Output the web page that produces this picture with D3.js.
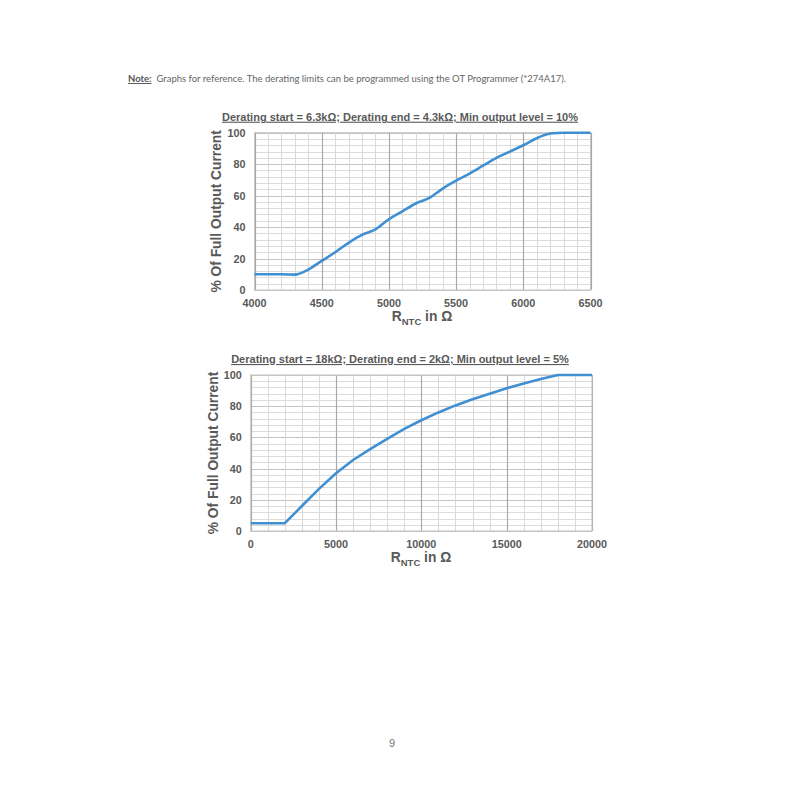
<!DOCTYPE html>
<html>
<head>
<meta charset="utf-8">
<script src="https://cdn.jsdelivr.net/npm/d3@7"></script>
<style>
  body { margin: 0; background: #fff; }
  svg text { font-family: "Liberation Sans", Arial, sans-serif; }
  .note { font-family: Lato, "Noto Sans", sans-serif !important; font-size: 9.5px; fill: #666; }
  .title { font-size: 11px; font-weight: bold; fill: #595959; text-decoration: underline; }
  .tick-label { font-size: 10.8px; font-weight: bold; fill: #595959; }
  .axis-title { font-size: 13.8px; font-weight: bold; fill: #595959; }
</style>
</head>
<body>
<svg id="page" width="800" height="800"></svg>
<script>
// chart 1: derating start 6.3k, end 4.3k, min 10%
const r1 = [4000, 4100, 4200, 4300, 4400, 4500, 4600, 4700, 4800, 4900, 5000, 5100, 5200,
  5300, 5400, 5500, 5600, 5700, 5800, 5900, 6000, 6100, 6200, 6300, 6400, 6500];
const pct1 = [10, 10, 10, 9.8, 13, 18.5, 24, 30, 35, 38.5, 45, 50, 55,
  58.5, 64.5, 69.5, 74, 79, 84, 88, 92, 96.5, 99.5, 100, 100, 100];
const xTicks1 = [4000, 4500, 5000, 5500, 6000, 6500];

// chart 2: derating start 18k, end 2k, min 5%
const r2 = [0, 1000, 2000, 3000, 4000, 5000, 6000, 7000, 8000, 9000, 10000, 11000, 12000,
  13000, 14000, 15000, 16000, 17000, 18000, 19000, 20000];
const pct2 = [5, 5, 5, 16, 27, 37, 45.5, 52.5, 59, 65.5, 71, 76, 80.5,
  84.5, 88, 91.5, 94.5, 97.5, 100, 100, 100];
const xTicks2 = [0, 5000, 10000, 15000, 20000];

const yTicks = [0, 20, 40, 60, 80, 100];

const svg = d3.select('#page');

// note at the top
const note = svg.append('text')
  .attr('class', 'note')
  .attr('x', 128)
  .attr('y', 82);
note.append('tspan')
  .attr('font-weight', 'bold')
  .attr('text-decoration', 'underline')
  .attr('fill', '#555')
  .text('Note:');
note.append('tspan')
  .text('\u00a0 Graphs for reference. The derating limits can be programmed using the OT Programmer (*274A17).');

function drawChart(opt) {
  const g = svg.append('g');
  const x = d3.scaleLinear().domain(opt.xDomain).range([opt.left, opt.right]);
  const y = d3.scaleLinear().domain([0, 100]).range([opt.bottom, opt.top]);

  // minor grid
  const xMinor = d3.range(opt.xDomain[0], opt.xDomain[1] + 1, opt.xMinor);
  const yMinor = d3.range(0, 101, 4);

  g.append('g').selectAll('line')
    .data(yMinor)
    .join('line')
    .attr('x1', opt.left).attr('x2', opt.right)
    .attr('y1', d => Math.round(y(d)) + 0.5).attr('y2', d => Math.round(y(d)) + 0.5)
    .attr('stroke', d => d % 20 === 0 ? '#c4c4c4' : '#dcdcdc')
    .attr('stroke-width', 1);

  g.append('g').selectAll('line')
    .data(xMinor)
    .join('line')
    .attr('x1', d => Math.round(x(d)) + 0.5).attr('x2', d => Math.round(x(d)) + 0.5)
    .attr('y1', opt.top).attr('y2', opt.bottom)
    .attr('stroke', d => opt.xTicks.includes(d) ? '#a9a9a9' : '#dadada')
    .attr('stroke-width', d => opt.xTicks.includes(d) ? 1.2 : 1);

  // border
  g.append('rect')
    .attr('x', opt.left).attr('y', opt.top)
    .attr('width', opt.right - opt.left).attr('height', opt.bottom - opt.top)
    .attr('fill', 'none')
    .attr('stroke', '#c4c4c4');

  // curve
  const line = d3.line()
    .x((d, i) => x(opt.xs[i]))
    .y(d => y(d))
    .curve(opt.curve);

  g.append('path')
    .datum(opt.ys)
    .attr('d', line)
    .attr('fill', 'none')
    .attr('stroke', '#3f8fd2')
    .attr('stroke-width', 2.6)
    .attr('stroke-linejoin', 'round');

  // tick labels
  g.append('g').selectAll('text')
    .data(yTicks)
    .join('text')
    .attr('class', 'tick-label')
    .attr('x', opt.left - 9)
    .attr('y', d => y(d) + 4)
    .attr('text-anchor', 'end')
    .text(d => d);

  g.append('g').selectAll('text')
    .data(opt.xTicks)
    .join('text')
    .attr('class', 'tick-label')
    .attr('x', d => x(d))
    .attr('y', opt.bottom + 17)
    .attr('text-anchor', 'middle')
    .text(d => d);

  // title
  svg.append('text')
    .attr('class', 'title')
    .attr('x', opt.titleX)
    .attr('y', opt.top - 12)
    .attr('text-anchor', 'middle')
    .text(opt.title);

  // y axis title
  svg.append('text')
    .attr('class', 'axis-title')
    .attr('transform', `translate(${opt.yTitleX}, ${(opt.top + opt.bottom) / 2}) rotate(-90)`)
    .attr('text-anchor', 'middle')
    .text('% Of Full Output Current');

  // x axis title with subscript
  const xt = svg.append('text')
    .attr('class', 'axis-title')
    .attr('x', opt.xTitleX)
    .attr('y', opt.bottom + 31)
    .attr('text-anchor', 'middle');
  xt.append('tspan').text('R');
  xt.append('tspan').attr('font-size', '9.5px').attr('dy', 4).text('NTC');
  xt.append('tspan').attr('dy', -4).text(' in \u03a9');
}

drawChart({
  xs: r1, ys: pct1, xTicks: xTicks1, xDomain: [4000, 6500], xMinor: 100,
  left: 254.5, right: 590.5, top: 132.7, bottom: 290,
  curve: d3.curveMonotoneX,
  title: 'Derating start = 6.3k\u03a9; Derating end = 4.3k\u03a9; Min output level = 10%',
  titleX: 400, yTitleX: 221, xTitleX: 422
});

drawChart({
  xs: r2, ys: pct2, xTicks: xTicks2, xDomain: [0, 20000], xMinor: 1000,
  left: 250.7, right: 592, top: 375, bottom: 531,
  curve: d3.curveLinear,
  title: 'Derating start = 18k\u03a9; Derating end = 2k\u03a9; Min output level = 5%',
  titleX: 400, yTitleX: 218, xTitleX: 421
});

// page number
svg.append('text')
  .attr('x', 392)
  .attr('y', 747)
  .attr('text-anchor', 'middle')
  .attr('font-family', 'Lato, "Noto Sans", sans-serif')
  .attr('font-size', '11px')
  .attr('fill', '#777')
  .text('9');
</script>
</body>
</html>
